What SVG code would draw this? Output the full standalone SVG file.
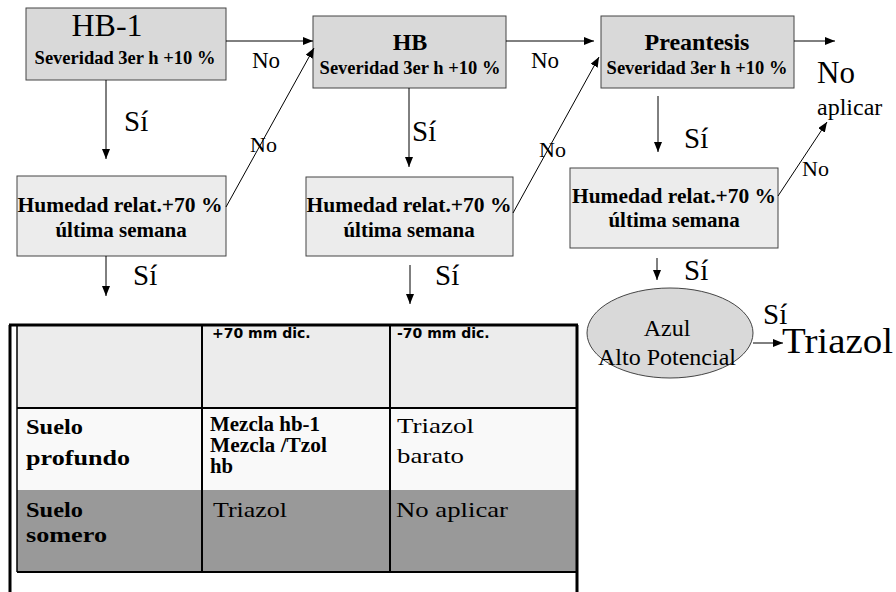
<svg xmlns="http://www.w3.org/2000/svg" width="896" height="592" viewBox="0 0 896 592">
<defs>
<marker id="ah" markerWidth="10" markerHeight="8" refX="10" refY="4" orient="auto" markerUnits="userSpaceOnUse"><path d="M0,0 L10,4 L0,8 z" fill="#000"/></marker>
<style>
.box{fill:#d9d9d9;stroke:#444;stroke-width:1}
.box2{fill:#ececec;stroke:#444;stroke-width:1}
.t{font-family:"Liberation Serif","Times New Roman",serif;fill:#000}
.b{font-weight:bold}
.c{stroke:#000;stroke-width:1;fill:none;marker-end:url(#ah)}
.hd{font-family:"DejaVu Sans",sans-serif;font-weight:bold;font-size:14px}
</style>
</defs>
<rect width="896" height="592" fill="#fff"/>
<g id="hb1">
<rect class="box" x="26" y="8" width="200" height="72"/>
<text class="t" x="107" y="36" font-size="32" text-anchor="middle">HB-1</text>
<text class="t b" x="125" y="64" font-size="18.5" text-anchor="middle">Severidad 3er h +10 %</text>
</g>
<g id="hum1">
<rect class="box2" x="17" y="176" width="209" height="80"/>
<text class="t b" x="120" y="212" font-size="21" text-anchor="middle" textLength="205" lengthAdjust="spacingAndGlyphs">Humedad relat.+70 %</text>
<text class="t b" x="121" y="237" font-size="21" text-anchor="middle">última semana</text>
</g>
<g id="hb">
<rect class="box" x="313" y="16" width="193" height="72"/>
<text class="t b" x="410" y="50" font-size="24" text-anchor="middle">HB</text>
<text class="t b" x="410" y="74" font-size="18.5" text-anchor="middle">Severidad 3er h +10 %</text>
</g>
<g id="hum2">
<rect class="box2" x="306" y="177" width="207" height="79"/>
<text class="t b" x="409" y="212" font-size="21" text-anchor="middle" textLength="205" lengthAdjust="spacingAndGlyphs">Humedad relat.+70 %</text>
<text class="t b" x="409" y="237" font-size="21" text-anchor="middle">última semana</text>
</g>
<g id="preantesis">
<rect class="box" x="601" y="16" width="193" height="72"/>
<text class="t b" x="697" y="50" font-size="24" text-anchor="middle">Preantesis</text>
<text class="t b" x="697" y="74" font-size="18.5" text-anchor="middle">Severidad 3er h +10 %</text>
</g>
<g id="hum3">
<rect class="box2" x="570" y="168" width="208" height="80"/>
<text class="t b" x="674" y="203" font-size="21" text-anchor="middle" textLength="204" lengthAdjust="spacingAndGlyphs">Humedad relat.+70 %</text>
<text class="t b" x="674" y="227" font-size="21" text-anchor="middle">última semana</text>
</g>
<g id="noaplicar">
<text class="t" x="817" y="83" font-size="31">No</text>
<text class="t" x="817" y="115" font-size="24">aplicar</text>
</g>
<g id="azul">
<ellipse cx="670" cy="333" rx="83" ry="45" fill="#d9d9d9" stroke="#444" stroke-width="1"/>
<text class="t" x="667" y="336" font-size="24" text-anchor="middle">Azul</text>
<text class="t" x="667" y="365" font-size="24" text-anchor="middle">Alto Potencial</text>
</g>
<g id="triazol">
<text class="t" x="782" y="353" font-size="36" textLength="111" lengthAdjust="spacingAndGlyphs">Triazol</text>
</g>
<g id="tabla">
<rect x="17" y="325" width="185" height="83" fill="#ececec"/>
<rect x="202" y="325" width="188" height="83" fill="#ececec"/>
<rect x="390" y="325" width="187" height="83" fill="#ececec"/>
<rect x="17" y="408" width="560" height="82" fill="#f9f9f9"/>
<rect x="17" y="490" width="560" height="82" fill="#999"/>
<g stroke="#000" fill="none">
<line x1="10" y1="325" x2="10" y2="592" stroke-width="3"/>
<line x1="9" y1="325" x2="578" y2="325" stroke-width="3"/>
<line x1="577" y1="325" x2="577" y2="592" stroke-width="3"/>
<line x1="17" y1="325" x2="17" y2="572" stroke-width="1.5"/>
<line x1="202" y1="325" x2="202" y2="572" stroke-width="2"/>
<line x1="390" y1="325" x2="390" y2="572" stroke-width="2"/>
<line x1="17" y1="408" x2="577" y2="408" stroke-width="2"/>
<line x1="17" y1="572" x2="577" y2="572" stroke-width="2"/>
</g>
<text class="hd" x="212" y="338">+70 mm dic.</text>
<text class="hd" x="397" y="338">-70 mm dic.</text>
<text class="t b" x="26" y="434" font-size="22" textLength="57" lengthAdjust="spacingAndGlyphs">Suelo</text>
<text class="t b" x="26" y="465" font-size="22" textLength="104" lengthAdjust="spacingAndGlyphs">profundo</text>
<text class="t b" x="210" y="431" font-size="20" textLength="110" lengthAdjust="spacingAndGlyphs">Mezcla hb-1</text>
<text class="t b" x="210" y="452" font-size="20" textLength="117" lengthAdjust="spacingAndGlyphs">Mezcla /Tzol</text>
<text class="t b" x="210" y="473" font-size="20" textLength="23" lengthAdjust="spacingAndGlyphs">hb</text>
<text class="t" x="397" y="433" font-size="22" textLength="77" lengthAdjust="spacingAndGlyphs">Triazol</text>
<text class="t" x="397" y="463" font-size="22" textLength="67" lengthAdjust="spacingAndGlyphs">barato</text>
<text class="t b" x="26" y="517" font-size="22" textLength="57" lengthAdjust="spacingAndGlyphs">Suelo</text>
<text class="t b" x="26" y="542" font-size="22" textLength="81" lengthAdjust="spacingAndGlyphs">somero</text>
<text class="t" x="213" y="517" font-size="22" textLength="74" lengthAdjust="spacingAndGlyphs">Triazol</text>
<text class="t" x="396" y="517" font-size="22" textLength="112" lengthAdjust="spacingAndGlyphs">No aplicar</text>
</g>
<g id="connectors">
<line class="c" x1="226" y1="41" x2="313" y2="41"/>
<line class="c" x1="106" y1="80" x2="106" y2="159"/>
<line class="c" x1="226" y1="207" x2="314" y2="48"/>
<line class="c" x1="106" y1="256" x2="106" y2="296"/>
<line class="c" x1="506" y1="41" x2="594" y2="41"/>
<line class="c" x1="409" y1="88" x2="409" y2="167"/>
<line class="c" x1="513" y1="213" x2="599" y2="57"/>
<line class="c" x1="410" y1="265" x2="410" y2="304"/>
<line class="c" x1="794" y1="41" x2="835" y2="41"/>
<line class="c" x1="658" y1="96" x2="658" y2="152"/>
<line class="c" x1="778" y1="196" x2="827" y2="122"/>
<line class="c" x1="657" y1="258" x2="657" y2="280"/>
<line class="c" x1="753" y1="343" x2="783" y2="343"/>
<text class="t" x="252" y="68" font-size="23">No</text>
<text class="t" x="124" y="131" font-size="29">Sí</text>
<text class="t" x="250" y="152" font-size="22">No</text>
<text class="t" x="133" y="285" font-size="29">Sí</text>
<text class="t" x="531" y="68" font-size="23">No</text>
<text class="t" x="412" y="141" font-size="29">Sí</text>
<text class="t" x="539" y="157" font-size="22">No</text>
<text class="t" x="435" y="285" font-size="29">Sí</text>
<text class="t" x="684" y="148" font-size="29">Sí</text>
<text class="t" x="802" y="176" font-size="22">No</text>
<text class="t" x="684" y="280" font-size="29">Sí</text>
<text class="t" x="763" y="324" font-size="29">Sí</text>
</g>
</svg>
